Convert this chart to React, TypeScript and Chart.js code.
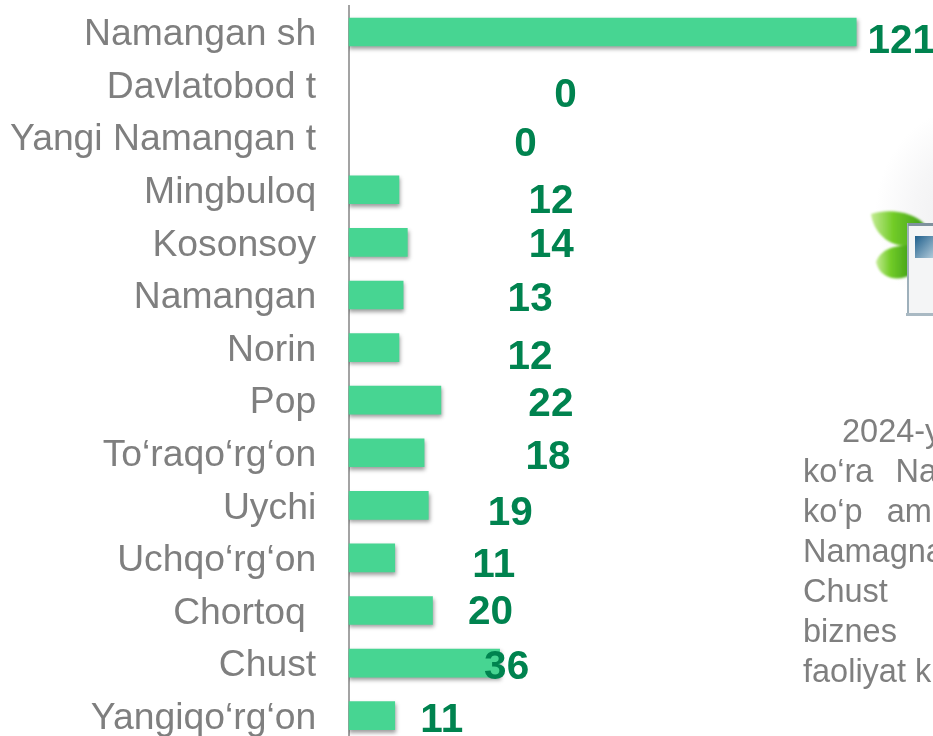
import React, { useEffect, useRef } from "react";
import { Chart, registerables } from "chart.js";

Chart.register(...registerables);

const categories = ["Namangan sh", "Davlatobod t", "Yangi Namangan t", "Mingbuloq", "Kosonsoy", "Namangan", "Norin", "Pop", "To‘raqo‘rg‘on", "Uychi", "Uchqo‘rg‘on", "Chortoq ", "Chust", "Yangiqo‘rg‘on"];
const values = [121, 0, 0, 12, 14, 13, 12, 22, 18, 19, 11, 20, 36, 11];
const labelShiftX = [45, 217, 177, 152, 144, 127, 131, 110, 124, 82, 99, 58, 7, 47];
const labelShiftY = [7, 8, 5, 9, 0, 2, 7, 2, 2, 5, 5, -1, 2, 2];
const noteLines = [
  { text: "2024-y", x: 842, gap: 0 },
  { text: "ko‘ra  Na", x: 803, gap: 2 },
  { text: "ko‘p  am", x: 803, gap: 3 },
  { text: "Namagna", x: 803, gap: 0 },
  { text: "Chust", x: 803, gap: 0 },
  { text: "biznes", x: 803, gap: 0 },
  { text: "faoliyat k", x: 803, gap: 0 },
];

const shadowPlugin = {
  id: "barShadow",
  beforeDatasetDraw(chart: any) {
    const c = chart.ctx;
    c.save();
    c.shadowColor = "rgba(0,0,0,0.38)";
    c.shadowBlur = 4;
    c.shadowOffsetX = 1;
    c.shadowOffsetY = 2.5;
  },
  afterDatasetDraw(chart: any) {
    chart.ctx.restore();
  },
};

const tickNudgePlugin = {
  id: "tickNudge",
  beforeDraw(chart: any) {
    const items = chart.scales.y.getLabelItems(chart.chartArea);
    items.forEach((it: any) => {
      it.options.translation[1] += 3;
    });
  },
};

const labelPlugin = {
  id: "valueLabels",
  afterDatasetsDraw(chart: any) {
    const c = chart.ctx;
    const meta = chart.getDatasetMeta(0);
    c.save();
    c.font = "bold 40.5px 'Liberation Sans', Arial, sans-serif";
    c.fillStyle = "#00834f";
    c.textAlign = "center";
    c.textBaseline = "middle";
    values.forEach((v, i) => {
      const el = meta.data[i];
      c.fillText(String(v), el.x + labelShiftX[i], el.y + labelShiftY[i] + 3);
    });
    c.restore();
  },
};

export default function App() {
  const ref = useRef<HTMLCanvasElement | null>(null);
  useEffect(() => {
    const chart = new Chart(ref.current as HTMLCanvasElement, {
      type: "bar",
      data: {
        labels: categories,
        datasets: [
          {
            data: values,
            backgroundColor: (ctx: any) => (ctx.raw === 0 ? "rgba(0,0,0,0)" : "#47d592"),
            borderWidth: 0,
            barThickness: 28,
          },
        ],
      },
      plugins: [shadowPlugin, tickNudgePlugin, labelPlugin],
      options: {
        indexAxis: "y",
        animation: false,
        responsive: false,
        layout: { padding: { top: 65.7, bottom: 58, left: 0, right: 39 } },
        plugins: { legend: { display: false }, tooltip: { enabled: false } },
        scales: {
          x: { display: false, min: 0, max: 130 },
          y: {
            afterFit(scale: any) {
              scale.width = 348.6;
            },
            grid: { display: false, drawTicks: false },
            border: { display: true, color: "#a3a3a3", width: 2 },
            ticks: {
              autoSkip: false,
              padding: 32.4,
              color: "#7f7f7f",
              font: { family: "'Liberation Sans', Arial, sans-serif", size: 37.3 },
            },
          },
        },
      },
    } as any);
    return () => chart.destroy();
  }, []);

  return (
    <div style={{ position: "fixed", left: 0, top: 0, width: 933, height: 736, overflow: "hidden", background: "#fff" }}>
      <svg width={933} height={736} style={{ position: "absolute", left: 0, top: 0 }}>
        <defs>
          <radialGradient id="glow">
            <stop offset="0" stopColor="#ececee" />
            <stop offset="0.6" stopColor="#f6f6f7" />
            <stop offset="1" stopColor="#ffffff" />
          </radialGradient>
          <linearGradient id="leaf" x1="0" y1="0" x2="1" y2="0">
            <stop offset="0" stopColor="#c4eb94" />
            <stop offset="0.4" stopColor="#72cc28" />
            <stop offset="1" stopColor="#3f9e18" />
          </linearGradient>
          <linearGradient id="panel" x1="0" y1="0" x2="1" y2="1">
            <stop offset="0" stopColor="#1f5f8c" />
            <stop offset="1" stopColor="#b7cfdd" />
          </linearGradient>
          <filter id="soft"><feGaussianBlur stdDeviation="1" /></filter>
        </defs>
        <ellipse cx={975} cy={215} rx={100} ry={110} fill="url(#glow)" />
        <g filter="url(#soft)">
          <path d="M871 214 C890 208 915 212 926 226 L912 246 C890 248 874 234 871 214 Z" fill="url(#leaf)" />
          <path d="M876 262 C880 250 895 244 912 246 L912 274 C900 282 880 280 876 262 Z" fill="url(#leaf)" />
        </g>
        <rect x={908} y={224} width={30} height={91} fill="#f4f5f6" stroke="#9eb0bb" strokeWidth={2} />
        <rect x={908} y={223} width={30} height={3} fill="#7f929e" />
        <rect x={906} y={313} width={30} height={3} fill="#a9b9c3" />
        <rect x={915} y={236} width={20} height={22} fill="url(#panel)" />
      </svg>
      <canvas ref={ref} width={933} height={860} style={{ position: "absolute", left: 0, top: -60 }} />
      {noteLines.map((l, i) => (
        <div
          key={i}
          style={{
            position: "absolute",
            left: l.x,
            top: 412 + i * 40,
            height: 38,
            lineHeight: "38px",
            fontFamily: "'Liberation Sans', Arial, sans-serif",
            fontSize: 32.5,
            color: "#7f7f7f",
            whiteSpace: "pre",
            wordSpacing: l.gap,
          }}
        >
          {l.text}
        </div>
      ))}
    </div>
  );
}
